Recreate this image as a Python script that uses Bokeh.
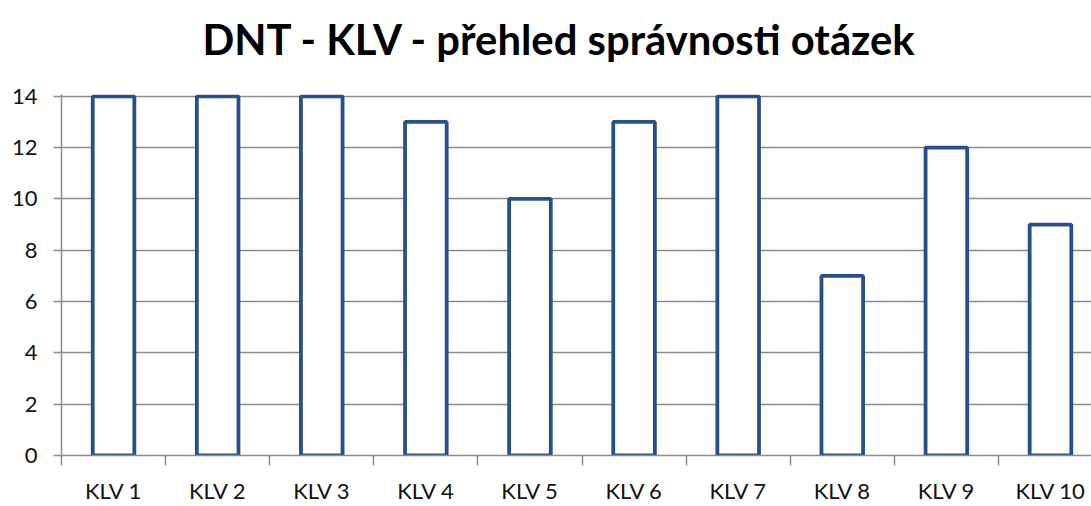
from bokeh.plotting import figure
from bokeh.models import Range1d, FixedTicker, Title
from bokeh.embed import file_html
from bokeh.resources import INLINE
import numpy as np

title_text = "DNT - KLV - přehled správnosti otázek"
categories = ["KLV 1", "KLV 2", "KLV 3", "KLV 4", "KLV 5",
              "KLV 6", "KLV 7", "KLV 8", "KLV 9", "KLV 10"]
values = [14, 14, 14, 13, 10, 13, 14, 7, 12, 9]
y_ticks = [0, 2, 4, 6, 8, 10, 12, 14]

idx = np.arange(1, len(categories) + 1)

p = figure(width=1091, height=506, output_backend="svg", toolbar_location=None,
           title=None,
           x_range=Range1d(0.5, 10.394), y_range=Range1d(0, 14.07),
           min_border_left=61, min_border_right=0, min_border_top=94,
           min_border_bottom=49)
p.outline_line_color = None
p.background_fill_color = "white"
p.border_fill_color = "white"

# spacer between frame and title
p.add_layout(Title(text=" ", text_font_size="10px", standoff=4), "above")
p.add_layout(Title(text=title_text, text_font="Lato", text_font_style="bold",
                   text_font_size="41.8px", align="left", offset=141,
                   vertical_align="top", standoff=24, text_color="#000000"),
             "above")

p.vbar(x=idx, top=values, width=0.4, bottom=0,
       fill_color="white", line_color="#27508A", line_width=3.8)

grid_col = "#8C8C8C"
p.xgrid.visible = False
p.ygrid.ticker = FixedTicker(ticks=y_ticks)
p.ygrid.grid_line_color = grid_col
p.ygrid.grid_line_width = 1.5

xa = p.xaxis[0]
xa.ticker = FixedTicker(ticks=list(idx), minor_ticks=list(idx - 0.5) + [len(categories) + 0.5])
xa.major_label_overrides = {int(i): c for i, c in zip(idx, categories)}
xa.major_tick_out = 0
xa.major_tick_in = 0
xa.minor_tick_out = 10
xa.minor_tick_in = 0
xa.minor_tick_line_color = grid_col
xa.minor_tick_line_width = 1.5
xa.axis_line_color = grid_col
xa.axis_line_width = 1.5
xa.major_label_standoff = 11
xa.major_label_text_font = "Lato"
xa.major_label_text_font_size = "22px"
xa.major_label_text_color = "#111111"

ya = p.yaxis[0]
ya.ticker = FixedTicker(ticks=y_ticks)
ya.major_tick_out = 8
ya.major_tick_in = 0
ya.minor_tick_line_color = None
ya.major_tick_line_color = grid_col
ya.major_tick_line_width = 1.5
ya.axis_line_color = grid_col
ya.axis_line_width = 1.5
ya.major_label_standoff = 16
ya.major_label_text_font = "Lato"
ya.major_label_text_font_size = "22px"
ya.major_label_text_color = "#111111"

open("out.html", "w").write(file_html(p, INLINE))
